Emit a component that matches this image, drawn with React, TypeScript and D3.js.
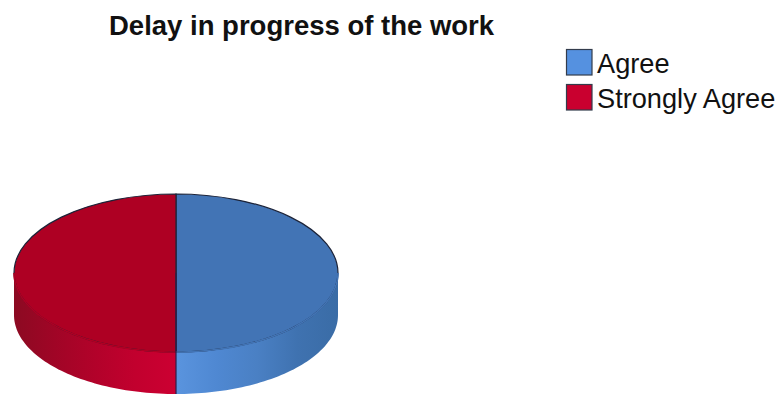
import React from "react";
import * as d3 from "d3";

const categories = ["Agree", "Strongly Agree"];
const shares = [50, 50];
const topColors = ["#4274b5", "#ae0023"];
const swatchColors = ["#5591e0", "#c9002f"];
const wallStops = [
  ["#5a94de", "#4f88d2", "#4a80c4", "#3f72b0", "#3a6ca6"],
  ["#8c0a22", "#a00526", "#b2022a", "#c2002e", "#cc0032"],
];
const title = "Delay in progress of the work";

const W = 779;
const H = 394;
const cx = 176;
const cy = 273;
const rx = 162;
const ry = 79;
const depth = 42;

const pie = d3.pie<number>().sort(null).startAngle(0).endAngle(2 * Math.PI);
const slices = pie(shares);
const arc = d3.arc<d3.PieArcDatum<number>>().innerRadius(0).outerRadius(rx);

// d3.arc angles run clockwise from twelve o'clock.
const px = (a: number) => cx + rx * Math.sin(a);
const py = (a: number) => cy - ry * Math.cos(a);

const wallPath = (start: number, end: number) => {
  // Only the part of a slice facing the viewer (the lower half) shows a wall.
  const a0 = Math.max(start, Math.PI / 2);
  const a1 = Math.min(end, (3 * Math.PI) / 2);
  if (a1 <= a0) return null;
  const angles = d3.range(0, 61).map((i) => a0 + ((a1 - a0) * i) / 60);
  return d3
    .area<number>()
    .x(px)
    .y0(py)
    .y1((a) => py(a) + depth)(angles);
};

export default function App() {
  return (
    <svg
      width={W}
      height={H}
      viewBox={`0 0 ${W} ${H}`}
      style={{ position: "absolute", left: 0, top: 0, background: "#fff", display: "block" }}
      fontFamily="'Liberation Sans', Arial, sans-serif"
    >
      <defs>
        {slices.map((s, i) => {
          const a0 = Math.max(s.startAngle, Math.PI / 2);
          const a1 = Math.min(s.endAngle, (3 * Math.PI) / 2);
          return (
            <linearGradient
              key={i}
              id={`wall-${i}`}
              gradientUnits="userSpaceOnUse"
              x1={Math.min(px(a0), px(a1))}
              x2={Math.max(px(a0), px(a1))}
              y1={0}
              y2={0}
            >
              {wallStops[i].map((c, j) => (
                <stop key={j} offset={j / (wallStops[i].length - 1)} stopColor={c} />
              ))}
            </linearGradient>
          );
        })}
      </defs>

      <text x={109} y={35} fontSize={27.5} fontWeight={700} fill="#111">
        {title}
      </text>

      {slices.map((s, i) => (
        <path key={i} d={wallPath(s.startAngle, s.endAngle) ?? ""} fill={`url(#wall-${i})`} />
      ))}

      <g transform={`translate(${cx},${cy}) scale(1,${ry / rx})`}>
        {slices.map((s, i) => (
          <path
            key={i}
            d={arc(s) ?? ""}
            fill={topColors[i]}
            stroke="#1c2338"
            strokeWidth={1.2}
            vectorEffect="non-scaling-stroke"
          />
        ))}
      </g>
      {/* The lower edge of the top face blends into the wall, so it is repainted without a dark rim. */}
      {slices.map((s, i) => {
        const a0 = Math.max(s.startAngle, Math.PI / 2);
        const a1 = Math.min(s.endAngle, (3 * Math.PI) / 2);
        const line = d3
          .line<number>()
          .x(px)
          .y(py)(d3.range(0, 41).map((k) => a0 + ((a1 - a0) * k) / 40));
        return <path key={i} d={line ?? ""} fill="none" stroke={topColors[i]} strokeWidth={1.6} />;
      })}
      <line x1={cx} x2={cx} y1={cy} y2={cy + ry + depth} stroke="#2a1f4a" strokeWidth={1.2} />

      {categories.map((c, i) => (
        <g key={c} transform={`translate(566,${49 + i * 35})`}>
          <rect x={0.5} y={0.5} width={25.5} height={25.5} fill={swatchColors[i]} stroke="#333c4c" strokeWidth={1.2} />
          <text x={31} y={24} fontSize={27.2} fill="#111">
            {c}
          </text>
        </g>
      ))}
    </svg>
  );
}
